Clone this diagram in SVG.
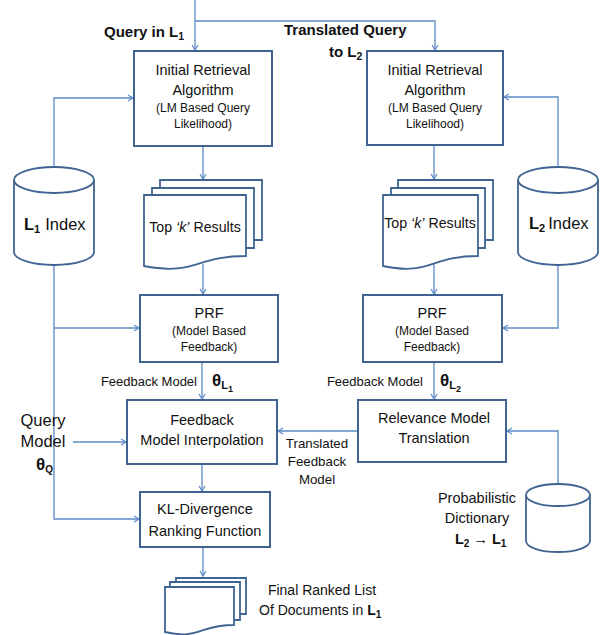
<svg xmlns="http://www.w3.org/2000/svg" width="603" height="635" viewBox="0 0 603 635">
<style>
.box{fill:#fff;stroke:#3F6492;stroke-width:2}
.doc{fill:#fff;stroke:#3F6492;stroke-width:1.8;stroke-linejoin:miter}
.cyl{fill:#fff;stroke:#3F6492;stroke-width:1.8}
.con{fill:none;stroke:#5B8AC6;stroke-width:1.3}
text{font-family:"Liberation Sans",Arial,sans-serif;fill:#111}
.t{font-size:14.5px;text-anchor:middle}
.s{font-size:12px;text-anchor:middle}
.b{font-weight:bold}
</style>
<defs>
<marker id="ah" markerWidth="8" markerHeight="8" refX="6" refY="4" orient="auto" markerUnits="userSpaceOnUse">
<path d="M1,1 L6,4 L1,7" fill="none" stroke="#5B8AC6" stroke-width="1.2"/>
</marker>
</defs>

<g id="connectors" class="con">
<path d="M195,0 V50" marker-end="url(#ah)"/>
<path d="M195,21 H435 V50" marker-end="url(#ah)"/>
<path d="M54,167 V98 H133" marker-end="url(#ah)"/>
<path d="M558,167 V97 H504" marker-end="url(#ah)"/>
<path d="M203,146 V179" marker-end="url(#ah)"/>
<path d="M434,145 V179" marker-end="url(#ah)"/>
<path d="M203,264 V294" marker-end="url(#ah)"/>
<path d="M434,263 V294" marker-end="url(#ah)"/>
<path d="M54,265 V519 H139" marker-end="url(#ah)"/>
<path d="M54,328 H139" marker-end="url(#ah)"/>
<path d="M558,265 V328 H503" marker-end="url(#ah)"/>
<path d="M202,362 V399" marker-end="url(#ah)"/>
<path d="M434,362 V399" marker-end="url(#ah)"/>
<path d="M358,431 H278" marker-end="url(#ah)"/>
<path d="M558,484 V431 H507" marker-end="url(#ah)"/>
<path d="M73,442 H126" marker-end="url(#ah)"/>
<path d="M202,464 V491" marker-end="url(#ah)"/>
<path d="M203,547 V576" marker-end="url(#ah)"/>
</g>

<g id="query-labels">
<text x="104" y="37" class="b" style="font-size:15px">Query in L<tspan dy="3" style="font-size:10.5px">1</tspan></text>
<text x="284" y="35" class="b" style="font-size:15px">Translated Query</text>
<text x="329" y="57" class="b" style="font-size:15px">to L<tspan dy="3" style="font-size:10.5px">2</tspan></text>
</g>

<g id="initial-retrieval-l1">
<rect class="box" x="134" y="51" width="138" height="95"/>
<text x="203" y="75" class="t">Initial Retrieval</text>
<text x="203" y="95" class="t">Algorithm</text>
<text x="203" y="112" class="s">(LM Based Query</text>
<text x="203" y="128" class="s">Likelihood)</text>
</g>

<g id="initial-retrieval-l2">
<rect class="box" x="367" y="51" width="136" height="94"/>
<text x="435" y="75" class="t">Initial Retrieval</text>
<text x="435" y="95" class="t">Algorithm</text>
<text x="435" y="112" class="s">(LM Based Query</text>
<text x="435" y="128" class="s">Likelihood)</text>
</g>

<g id="l1-index">
<path class="cyl" d="M14,180 A40,13 0 0 1 94,180 V252 A40,13 0 0 1 14,252 Z M14,180 A40,13 0 0 0 94,180"/>
<text x="24" y="230" style="font-size:16.5px"><tspan class="b">L</tspan><tspan class="b" dy="3" style="font-size:11px">1</tspan><tspan dy="-3" dx="5">Index</tspan></text>
</g>

<g id="l2-index">
<path class="cyl" d="M518,180 A40,13 0 0 1 598,180 V252 A40,13 0 0 1 518,252 Z M518,180 A40,13 0 0 0 598,180"/>
<text x="529" y="229" style="font-size:16.5px"><tspan class="b">L</tspan><tspan class="b" dy="3" style="font-size:11px">2</tspan><tspan dy="-3" dx="3">Index</tspan></text>
</g>

<g id="topk-l1">
<path class="doc" d="M160,188 V180 H262 V240 H254"/>
<path class="doc" d="M152,195 V188 H254 V248 H246"/>
<path class="doc" d="M144,195 H246 V256 C195,256 195,276 144,266 Z"/>
<text x="195" y="232" style="font-size:14.2px;text-anchor:middle">Top <tspan font-style="italic">‘k’</tspan> Results</text>
</g>

<g id="topk-l2">
<path class="doc" d="M398,188 V180 H493 V240 H485"/>
<path class="doc" d="M391,195 V188 H485 V248 H478"/>
<path class="doc" d="M383,195 H478 V256 C430,256 430,276 383,266 Z"/>
<text x="430" y="228" style="font-size:14.2px;text-anchor:middle">Top <tspan font-style="italic">‘k’</tspan> Results</text>
</g>

<g id="prf-l1">
<rect class="box" x="140" y="295" width="138" height="67"/>
<text x="209" y="318" class="t">PRF</text>
<text x="209" y="335" class="s">(Model Based</text>
<text x="209" y="351" class="s">Feedback)</text>
</g>

<g id="prf-l2">
<rect class="box" x="363" y="295" width="139" height="67"/>
<text x="432" y="318" class="t">PRF</text>
<text x="432" y="335" class="s">(Model Based</text>
<text x="432" y="351" class="s">Feedback)</text>
</g>

<g id="feedback-labels">
<text x="197" y="386" style="font-size:13px;text-anchor:end">Feedback Model</text>
<text x="212" y="386" class="b" style="font-size:17px">θ<tspan dy="3" style="font-size:11px">L</tspan><tspan dy="3" style="font-size:9px">1</tspan></text>
<text x="423" y="386" style="font-size:13px;text-anchor:end">Feedback Model</text>
<text x="440" y="386" class="b" style="font-size:17px">θ<tspan dy="3" style="font-size:11px">L</tspan><tspan dy="3" style="font-size:9px">2</tspan></text>
</g>

<g id="query-model">
<text x="43" y="426" style="font-size:16.5px;text-anchor:middle">Query</text>
<text x="43" y="447" style="font-size:16.5px;text-anchor:middle">Model</text>
<text x="36" y="470" class="b" style="font-size:17px">θ<tspan dy="3" style="font-size:10px">Q</tspan></text>
</g>

<g id="feedback-interpolation">
<rect class="box" x="127" y="400" width="150" height="64"/>
<text x="202" y="425" class="t">Feedback</text>
<text x="202" y="445" class="t">Model Interpolation</text>
</g>

<g id="relevance-translation">
<rect class="box" x="358" y="400" width="148" height="62"/>
<text x="434" y="423" class="t">Relevance Model</text>
<text x="434" y="443" class="t">Translation</text>
</g>

<g id="translated-label">
<text x="317" y="448" style="font-size:13.3px;text-anchor:middle">Translated</text>
<text x="317" y="466" style="font-size:13.3px;text-anchor:middle">Feedback</text>
<text x="317" y="484" style="font-size:13.3px;text-anchor:middle">Model</text>
</g>

<g id="kl-divergence">
<rect class="box" x="140" y="492" width="130" height="55"/>
<text x="205" y="514" class="t">KL-Divergence</text>
<text x="205" y="536" class="t">Ranking Function</text>
</g>

<g id="dictionary">
<path class="cyl" d="M526,495 A32,11 0 0 1 590,495 V541 A32,11 0 0 1 526,541 Z M526,495 A32,11 0 0 0 590,495"/>
<text x="477" y="503" class="t">Probabilistic</text>
<text x="477" y="523" class="t">Dictionary</text>
<text x="455" y="544" class="b" style="font-size:14.5px">L<tspan dy="3" style="font-size:10px">2</tspan><tspan dy="-3"> → L</tspan><tspan dy="3" style="font-size:10px">1</tspan></text>
</g>

<g id="final-list">
<path class="doc" d="M176,582 V578 H246 V614 H240"/>
<path class="doc" d="M170,587 V582 H240 V620 H234"/>
<path class="doc" d="M165,587 H234 V625 C199,625 199,640 165,632 Z"/>
<text x="322" y="595" style="font-size:14px;text-anchor:middle">Final Ranked List</text>
<text x="259" y="615" style="font-size:14px">Of Documents  in <tspan class="b">L</tspan><tspan class="b" dy="3" style="font-size:10px">1</tspan></text>
</g>
</svg>
